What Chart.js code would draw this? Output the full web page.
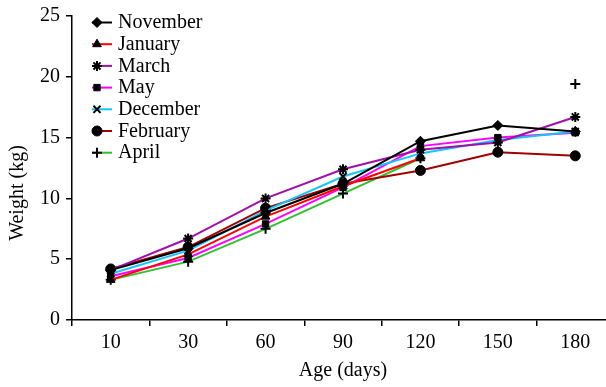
<!DOCTYPE html>
<html>
<head>
<meta charset="utf-8">
<script src="https://cdn.jsdelivr.net/npm/chart.js@4.4.0/dist/chart.umd.min.js"></script>
<style>
html,body{margin:0;padding:0;background:#fff;}
#wrap{width:606px;height:387px;position:relative;overflow:hidden;}
</style>
</head>
<body>
<div id="wrap"><canvas id="c" width="606" height="387"></canvas></div>
<script>
const categories = ["10", "30", "60", "90", "120", "150", "180"];
const november = [4.1, 5.9, 8.8, 11.2, 14.7, 16.0, 15.5];
const january  = [3.3, 5.4, 8.5, 11.0, 13.3, null, 15.5];
const march    = [4.1, 6.7, 10.0, 12.4, 14.0, 14.6, 16.7];
const may      = [3.6, 5.1, 7.9, 10.9, 14.3, 15.0, 15.4];
const december = [3.8, 5.7, 9.0, 11.8, 13.7, 14.8, 15.5];
const february = [4.2, 6.0, 9.2, 11.2, 12.3, 13.8, 13.5];
const april    = [3.3, 4.8, 7.5, 10.4, 13.3, null, 19.4];
const yTicks = [0, 5, 10, 15, 20, 25];

const seriesDefs = [
  {label: "November", data: november, color: "#000000", style: "rectRot", r: 5, order: 0},
  {label: "January",  data: january,  color: "#ff0000", style: "triangle", r: 5, order: 1},
  {label: "March",    data: march,    color: "#a010a8", style: "star", r: 5, order: 2},
  {label: "May",      data: may,      color: "#ff00ff", style: "rect", r: 4.5, order: 4},
  {label: "December", data: december, color: "#10c8f8", style: "crossRot", r: 5, order: 3},
  {label: "February", data: february, color: "#a00000", style: "circle", r: 5, order: 5},
  {label: "April",    data: april,    color: "#30c030", style: "cross", r: 5, order: 6}
];

const FONT = "'Liberation Serif', 'Times New Roman', serif";
const FS = 20;
const PLOT_RIGHT = 614; // plot area runs slightly past the right edge, as in the reference

const datasets = seriesDefs.map(s => ({
  label: s.label,
  data: s.data.map((v, i) => ({x: i, y: v})),
  borderColor: s.color,
  backgroundColor: s.color,
  borderWidth: 2,
  pointStyle: s.style,
  pointRadius: s.r,
  pointBackgroundColor: "#000",
  pointBorderColor: "#000",
  pointBorderWidth: (s.style === "cross" || s.style === "crossRot" || s.style === "star") ? 2 : 1,
  spanGaps: false,
  tension: 0,
  order: s.order
}));

const areaPlugin = {
  id: "extendArea",
  afterLayout(chart) {
    const xs = chart.scales.x;
    xs.right = PLOT_RIGHT;
    xs.width = xs.right - xs.left;
    xs.configure();
    chart.chartArea.right = PLOT_RIGHT;
    chart.chartArea.width = PLOT_RIGHT - chart.chartArea.left;
  }
};

const legendPlugin = {
  id: "customLegend",
  afterDraw(chart) {
    const ctx = chart.ctx;
    ctx.save();
    const x0 = 92, x1 = 112, mx = 97, tx = 118, y0 = 22.5, dy = 21.7;
    seriesDefs.forEach((s, i) => {
      const y = y0 + i * dy;
      ctx.strokeStyle = s.color;
      ctx.lineWidth = 2;
      ctx.beginPath();
      ctx.moveTo(x0, y);
      ctx.lineTo(x1, y);
      ctx.stroke();
      ctx.fillStyle = "#000";
      ctx.strokeStyle = "#000";
      ctx.lineWidth = (s.style === "cross" || s.style === "crossRot" || s.style === "star") ? 2 : 1;
      Chart.helpers.drawPoint(ctx, {pointStyle: s.style, radius: s.r, borderWidth: ctx.lineWidth, rotation: 0}, mx, y);
      ctx.fillStyle = "#000";
      ctx.font = FS + "px " + FONT;
      ctx.textBaseline = "middle";
      ctx.textAlign = "left";
      ctx.fillText(s.label, tx, y + 0.5);
    });
    ctx.translate(18, 193);
    ctx.rotate(-Math.PI / 2);
    ctx.textAlign = "center";
    ctx.textBaseline = "middle";
    ctx.font = FS + "px " + FONT;
    ctx.fillText("Weight (kg)", 0, 0);
    ctx.restore();
  }
};

new Chart(document.getElementById("c"), {
  type: "line",
  data: {datasets},
  plugins: [areaPlugin, legendPlugin],
  options: {
    responsive: false,
    animation: false,
    devicePixelRatio: 1,
    layout: {padding: {top: 16, right: 0, left: 0, bottom: 0}},
    plugins: {legend: {display: false}, tooltip: {enabled: false}},
    scales: {
      x: {
        type: "linear",
        min: -0.5,
        max: 6.5,
        afterBuildTicks(scale) {
          scale.ticks = categories.map((c, i) => ({value: i - 0.5}));
        },
        afterFit(scale) { scale.height = 67; scale.paddingLeft = 0; scale.paddingRight = 0; },
        ticks: {
          callback: (v, i) => categories[i],
          labelOffset: 38.7,
          padding: 5,
          maxRotation: 0,
          autoSkip: false,
          color: "#000",
          font: {family: FONT, size: FS}
        },
        grid: {drawOnChartArea: false, tickLength: 6, color: "#000", lineWidth: 1.5},
        border: {color: "#000", width: 1.5},
        title: {display: true, text: "Age (days)", color: "#000", font: {family: FONT, size: FS}, padding: {top: 0, bottom: 4}}
      },
      y: {
        min: 0,
        max: 25,
        afterBuildTicks(scale) {
          scale.ticks = yTicks.map(v => ({value: v}));
        },
        afterFit(scale) { scale.width = 72; scale.paddingTop = 0; scale.paddingBottom = 0; },
        ticks: {
          padding: 6,
          color: "#000",
          font: {family: FONT, size: FS}
        },
        grid: {drawOnChartArea: false, tickLength: 6, color: "#000", lineWidth: 1.5},
        border: {color: "#000", width: 1.5},
        title: {display: false}
      }
    }
  }
});
</script>
</body>
</html>
